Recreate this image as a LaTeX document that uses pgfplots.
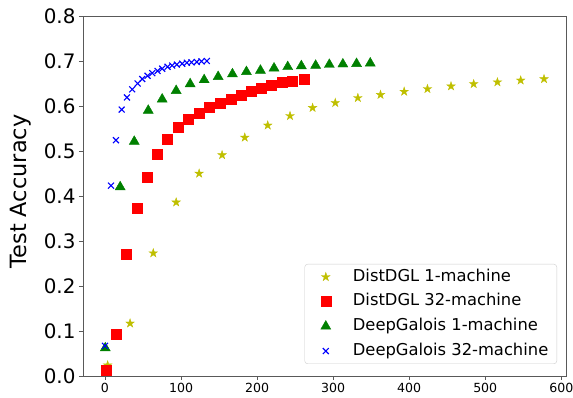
\documentclass[border=0pt]{standalone}
\usepackage{pgfplots}
\pgfplotsset{compat=1.18}
\usepackage{fontspec}
\setmainfont{DejaVu Sans}
\definecolor{myyellow}{rgb}{0.75,0.75,0}
\definecolor{mygreen}{rgb}{0,0.5,0}
\pgfdeclareplotmark{fstar}{%
  \pgfpathmoveto{\pgfpointpolar{90}{\pgfplotmarksize}}%
  \pgfpathlineto{\pgfpointpolar{126}{0.382\pgfplotmarksize}}%
  \pgfpathlineto{\pgfpointpolar{162}{\pgfplotmarksize}}%
  \pgfpathlineto{\pgfpointpolar{198}{0.382\pgfplotmarksize}}%
  \pgfpathlineto{\pgfpointpolar{234}{\pgfplotmarksize}}%
  \pgfpathlineto{\pgfpointpolar{270}{0.382\pgfplotmarksize}}%
  \pgfpathlineto{\pgfpointpolar{306}{\pgfplotmarksize}}%
  \pgfpathlineto{\pgfpointpolar{342}{0.382\pgfplotmarksize}}%
  \pgfpathlineto{\pgfpointpolar{18}{\pgfplotmarksize}}%
  \pgfpathlineto{\pgfpointpolar{54}{0.382\pgfplotmarksize}}%
  \pgfpathclose
  \pgfusepathqfillstroke
}
\begin{document}
\begin{tikzpicture}
\begin{axis}[
  name=ax,
  scale only axis,
  width=483bp, height=360bp,
  xmin=-28.9, xmax=606.2,
  ymin=0, ymax=0.8,
  xtick={0,100,200,300,400,500,600},
  ytick={0,0.1,0.2,0.3,0.4,0.5,0.6,0.7,0.8},
  tick align=outside,
  major tick length=4bp,
  xtick pos=bottom, ytick pos=left,
  axis line style={draw=black!65, line width=0.9bp},
  every tick/.style={draw=black!65, line width=0.9bp},
  /pgf/number format/assume math mode=true,
  xticklabel style={font=\fontsize{12.6}{14}\selectfont},
  yticklabel style={font=\fontsize{20}{24}\selectfont, /pgf/number format/.cd, fixed, fixed zerofill, precision=1},
  ylabel={Test Accuracy},
  ylabel style={font=\fontsize{22.5}{26}\selectfont, at={(axis description cs:-0.106,0.5125)}, anchor=south, inner sep=0pt, rotate=0},
  only marks,
  legend image code/.code={\path[draw=none,fill=none] (0cm,-2bp) rectangle (1.1cm,2bp); \draw[mark repeat=2,mark phase=2,#1] plot coordinates {(0cm,0cm) (0.55cm,0cm) (1.1cm,0cm)};},
  legend cell align=left,
  legend style={
    at={(axis description cs:1,0)}, anchor=south east, xshift=-9bp, yshift=12bp,
    draw=black!20, rounded corners=3bp, fill=white,
    font=\fontsize{16.4}{19}\selectfont,
    inner xsep=5.5bp, inner ysep=3bp,
    row sep=5.2bp, column sep=8.5bp,
    nodes={inner xsep=3bp, inner ysep=2bp, text height=12bp, text depth=3.5bp},
  },
]
\addplot[mark=fstar, mark size=4.5bp, color=myyellow, fill=myyellow] coordinates {
(3.5,0.024) (33,0.117) (63.5,0.273) (93.6,0.386) (123.8,0.450) (154,0.491) (183.8,0.530) (214,0.557) (243.3,0.578) (273,0.596) (302.8,0.607) (332.5,0.618) (362.3,0.625) (393.4,0.632) (424,0.638) (455,0.644) (484.8,0.649) (516,0.653) (546.6,0.657) (577.3,0.660)
};
\addlegendentry{DistDGL 1-machine}
\addplot[mark=square*, mark size=5bp, color=red, fill=red] coordinates {
(2.2,0.012) (15.3,0.093) (28,0.270) (43,0.372) (55.6,0.441) (68.7,0.493) (82.3,0.527) (95.8,0.552) (109.4,0.571) (123.4,0.585) (137.4,0.597) (151.3,0.607) (165.4,0.616) (179,0.624) (192,0.633) (205.2,0.639) (219.2,0.646) (232.8,0.652) (246.4,0.656) (261.7,0.660)
};
\addlegendentry{DistDGL 32-machine}
\addplot[mark=triangle*, mark size=5.8bp, color=mygreen, fill=mygreen] coordinates {
(0.4,0.062) (20,0.420) (38.5,0.521) (56.9,0.590) (75.2,0.615) (93.6,0.634) (112,0.649) (130.4,0.658) (148.8,0.665) (167.6,0.671) (186,0.676) (204.4,0.679) (222.3,0.684) (240.3,0.687) (258.2,0.689) (277,0.690) (295,0.692) (312.8,0.693) (330.8,0.694) (348.8,0.695)
};
\addlegendentry{DeepGalois 1-machine}
\addplot[mark=x, mark size=4.2bp, color=blue, mark options={line width=1.1bp}] coordinates {
(0,0.067) (7.9,0.423) (14.4,0.524) (21.9,0.592) (28.9,0.619) (35.8,0.637) (42.9,0.650) (49,0.660) (56,0.667) (62.1,0.673) (69.2,0.678) (75.2,0.683) (82.3,0.687) (88.4,0.690) (94.5,0.692) (101.5,0.694) (107.7,0.696) (113.8,0.697) (120.8,0.698) (126.9,0.699) (133.9,0.700)
};
\addlegendentry{DeepGalois 32-machine}
\end{axis}
\pgfresetboundingbox
\path[use as bounding box] ([xshift=-83bp,yshift=-22bp]ax.south west) rectangle ([xshift=7bp,yshift=16bp]ax.north east);
\end{tikzpicture}
\end{document}
